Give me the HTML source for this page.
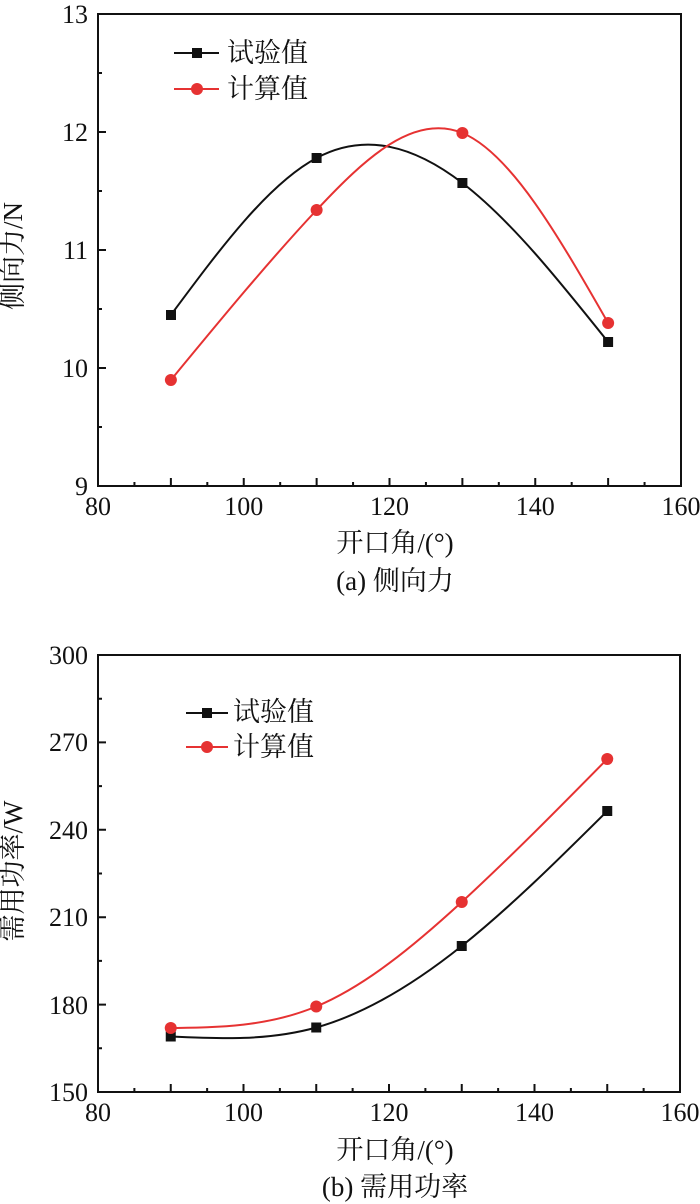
<!DOCTYPE html>
<html>
<head>
<meta charset="utf-8">
<style>
html,body{margin:0;padding:0;background:#fff;}
svg{display:block;}
text{font-family:"Liberation Serif","Noto Serif CJK SC",serif;fill:#111;}
</style>
</head>
<body>
<svg width="700" height="1204" viewBox="0 0 700 1204" xmlns="http://www.w3.org/2000/svg">
<!-- ============ TOP CHART ============ -->
<g stroke="#111" stroke-width="2" fill="none">
  <rect x="98" y="14" width="583" height="472"/>
  <!-- x ticks -->
  <path d="M134.44 486v-4M170.88 486v-8M207.31 486v-4M243.75 486v-8M280.19 486v-4M316.63 486v-8M353.06 486v-4M389.5 486v-8M425.94 486v-4M462.38 486v-8M498.81 486v-4M535.25 486v-8M571.69 486v-4M608.13 486v-8M644.56 486v-4"/>
  <!-- y ticks -->
  <path d="M98 73h4M98 132h8M98 191h4M98 250h8M98 309h4M98 368h8M98 427h4"/>
</g>
<g font-size="26" text-anchor="end">
  <text x="88" y="23">13</text>
  <text x="88" y="141">12</text>
  <text x="88" y="259">11</text>
  <text x="88" y="377">10</text>
  <text x="88" y="495">9</text>
</g>
<g font-size="26" text-anchor="middle">
  <text x="98" y="515">80</text>
  <text x="243.75" y="515">100</text>
  <text x="389.5" y="515">120</text>
  <text x="535.25" y="515">140</text>
  <text x="681" y="515">160</text>
</g>
<text x="395" y="552" font-size="27" text-anchor="middle">开口角/(°)</text>
<text x="395" y="590" font-size="27" text-anchor="middle">(a) 侧向力</text>
<text transform="translate(22,256) rotate(-90)" font-size="27" text-anchor="middle">侧向力/N</text>

<!-- series top -->
<path d="M170.88 315 C219.5 249.5, 268.0 183.9, 316.63 158 C365.2 132.1, 413.8 145.7, 462.38 183 C511.0 220.3, 559.5 281.1, 608.13 342" stroke="#111" stroke-width="2" fill="none"/>
<path d="M170.88 380 C219.5 321, 268.0 262, 316.63 210 C365.2 158, 413.8 113, 462.38 133 C511.0 153, 559.5 238, 608.13 323" stroke="#e63232" stroke-width="2" fill="none"/>
<g fill="#111">
  <rect x="166" y="310" width="10" height="10"/>
  <rect x="311.6" y="153" width="10" height="10"/>
  <rect x="457.4" y="178" width="10" height="10"/>
  <rect x="603.1" y="337" width="10" height="10"/>
</g>
<g fill="#e63232">
  <circle cx="170.88" cy="380" r="6"/>
  <circle cx="316.63" cy="210" r="6"/>
  <circle cx="462.38" cy="133" r="6"/>
  <circle cx="608.13" cy="323" r="6"/>
</g>
<!-- legend top -->
<path d="M174 53H219" stroke="#111" stroke-width="2"/>
<rect x="192" y="48" width="10" height="10" fill="#111"/>
<text x="227" y="62" font-size="27">试验值</text>
<path d="M174 89H219" stroke="#e63232" stroke-width="2"/>
<circle cx="197" cy="89" r="6" fill="#e63232"/>
<text x="227" y="98" font-size="27">计算值</text>

<!-- ============ BOTTOM CHART ============ -->
<g stroke="#111" stroke-width="2" fill="none">
  <rect x="98" y="655" width="582" height="437"/>
  <path d="M134.38 1092v-4M170.75 1092v-8M207.13 1092v-4M243.5 1092v-8M279.88 1092v-4M316.25 1092v-8M352.63 1092v-4M389 1092v-8M425.38 1092v-4M461.75 1092v-8M498.13 1092v-4M534.5 1092v-8M570.88 1092v-4M607.25 1092v-8M643.63 1092v-4"/>
  <path d="M98 698.7h4M98 742.4h8M98 786.1h4M98 829.8h8M98 873.5h4M98 917.2h8M98 960.9h4M98 1004.6h8M98 1048.3h4"/>
</g>
<g font-size="26" text-anchor="end">
  <text x="88" y="664">300</text>
  <text x="88" y="751">270</text>
  <text x="88" y="839">240</text>
  <text x="88" y="926">210</text>
  <text x="88" y="1014">180</text>
  <text x="88" y="1101">150</text>
</g>
<g font-size="26" text-anchor="middle">
  <text x="98" y="1121">80</text>
  <text x="243.5" y="1121">100</text>
  <text x="389" y="1121">120</text>
  <text x="534.5" y="1121">140</text>
  <text x="680" y="1121">160</text>
</g>
<text x="395" y="1159" font-size="27" text-anchor="middle">开口角/(°)</text>
<text x="395" y="1196" font-size="27" text-anchor="middle">(b) 需用功率</text>
<text transform="translate(22,871) rotate(-90)" font-size="27" text-anchor="middle">需用功率/W</text>

<path d="M170.75 1036.5 C219.25 1038.76, 267.75 1041.01, 316.25 1027.5 C364.75 1013.99, 413.25 984.71, 461.75 946 C510.25 907.29, 558.75 859.14, 607.25 811" stroke="#111" stroke-width="2" fill="none"/>
<path d="M170.75 1028 C219.25 1027.36, 267.75 1026.71, 316.25 1006.5 C364.75 986.29, 413.25 946.51, 461.75 902 C510.25 857.49, 558.75 808.24, 607.25 759" stroke="#e63232" stroke-width="2" fill="none"/>
<g fill="#111">
  <rect x="165.75" y="1031.5" width="10" height="10"/>
  <rect x="311.25" y="1022.5" width="10" height="10"/>
  <rect x="456.75" y="941" width="10" height="10"/>
  <rect x="602.25" y="806" width="10" height="10"/>
</g>
<g fill="#e63232">
  <circle cx="170.75" cy="1028" r="6"/>
  <circle cx="316.25" cy="1006.5" r="6"/>
  <circle cx="461.75" cy="902" r="6"/>
  <circle cx="607.25" cy="759" r="6"/>
</g>
<!-- legend bottom -->
<path d="M186 713H228" stroke="#111" stroke-width="2"/>
<rect x="202" y="708" width="10" height="10" fill="#111"/>
<text x="233" y="721" font-size="27">试验值</text>
<path d="M186 747H228" stroke="#e63232" stroke-width="2"/>
<circle cx="207" cy="747" r="6" fill="#e63232"/>
<text x="233" y="756" font-size="27">计算值</text>
</svg>
</body>
</html>
